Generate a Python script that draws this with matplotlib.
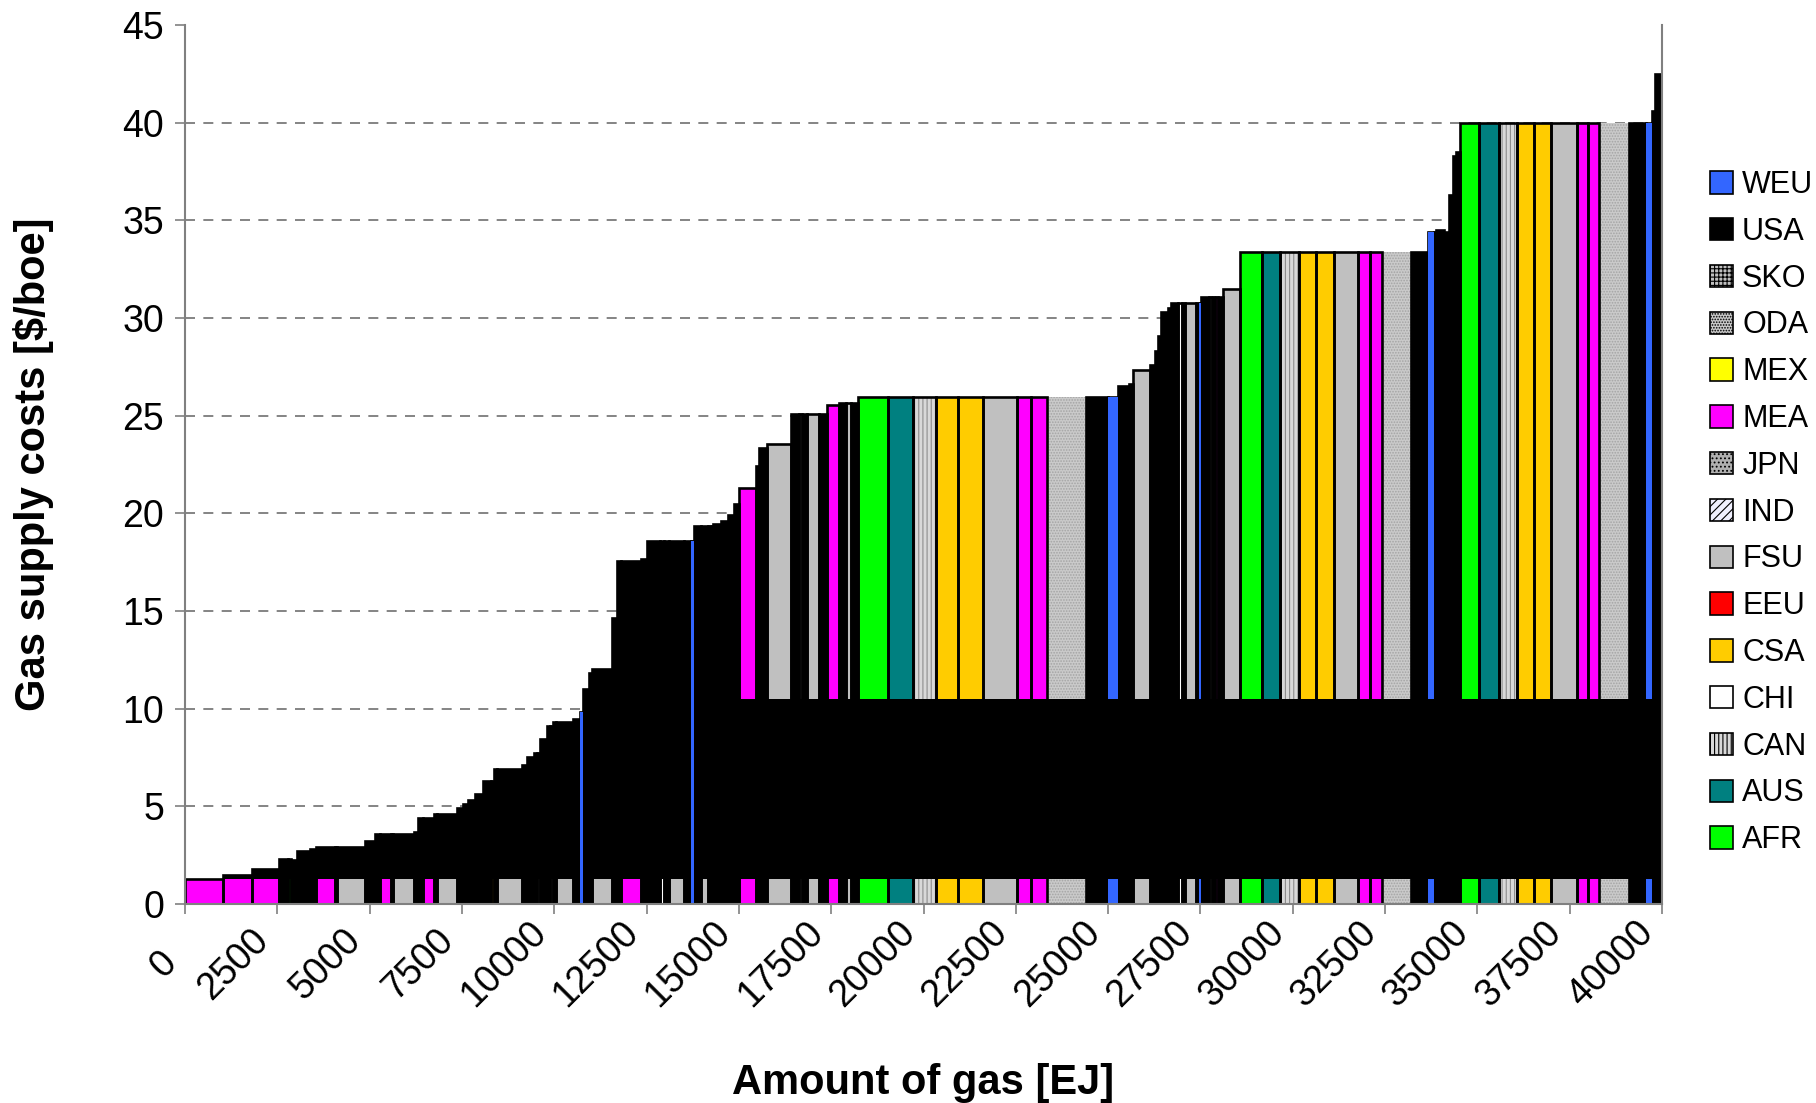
import numpy as np
import matplotlib
matplotlib.use("Agg")
import matplotlib.pyplot as plt
from matplotlib.patches import Patch
from matplotlib.transforms import ScaledTranslation

plt.rcParams["font.family"] = ["Liberation Sans", "DejaVu Sans"]
plt.rcParams["hatch.linewidth"] = 0.8

# gas resource tranches, ordered by cost: amount [EJ], cost [$/boe], region
widths = [1030, 785, 731, 244, 81, 162, 352, 162, 515, 54,
          758, 271, 135, 298, 54, 569, 108, 135, 298, 81,
          542, 162, 135, 190, 217, 217, 81, 81, 677, 135,
          190, 81, 81, 190, 81, 81, 81, 460, 190, 81,
          162, 81, 542, 135, 108, 542, 162, 352, 108, 135,
          406, 190, 81, 190, 190, 81, 54, 217, 190, 162,
          135, 460, 81, 217, 650, 217, 81, 135, 325, 217,
          325, 190, 135, 190, 812, 677, 623, 596, 677, 921,
          379, 433, 1056, 596, 271, 298, 108, 460, 135, 81,
          81, 190, 81, 190, 108, 81, 298, 81, 54, 217,
          81, 81, 81, 135, 460, 596, 487, 515, 460, 487,
          650, 325, 325, 785, 460, 162, 54, 217, 135, 108,
          81, 108, 515, 542, 487, 460, 460, 704, 298, 298,
          812, 460, 162, 81, 135]
costs = [1.28, 1.48, 1.78, 2.30, 2.30, 2.25, 2.72, 2.82, 2.92, 2.92,
         2.92, 3.23, 3.59, 3.59, 3.59, 3.59, 3.67, 4.39, 4.39, 4.60,
         4.60, 4.92, 5.12, 5.33, 5.64, 6.30, 6.30, 6.92, 6.92, 7.13,
         7.52, 7.72, 7.72, 8.46, 9.09, 9.09, 9.32, 9.32, 9.47, 9.81,
         11.0, 11.85, 12.03, 14.64, 17.54, 17.54, 17.65, 18.60, 18.60, 18.60,
         18.60, 18.60, 18.60, 19.33, 19.33, 19.33, 19.33, 19.45, 19.60, 19.92,
         20.50, 21.30, 22.40, 23.36, 23.55, 25.08, 25.08, 25.08, 25.08, 25.08,
         25.56, 25.64, 25.64, 25.64, 25.95, 25.95, 25.95, 25.95, 25.95, 25.95,
         25.95, 25.95, 25.95, 25.95, 25.95, 26.53, 26.60, 27.35, 27.60, 28.30,
         29.10, 30.30, 30.50, 30.77, 30.77, 30.77, 30.77, 30.77, 30.77, 31.07,
         31.07, 31.07, 31.07, 31.07, 31.50, 33.37, 33.37, 33.37, 33.37, 33.37,
         33.37, 33.37, 33.37, 33.37, 33.37, 34.40, 34.40, 34.53, 34.40, 36.30,
         38.30, 38.50, 40.0, 40.0, 40.0, 40.0, 40.0, 40.0, 40.0, 40.0,
         40.0, 40.0, 40.0, 40.6, 42.5]
regions = ["MEA", "MEA", "MEA", "USA", "AFR", "USA", "USA", "USA", "MEA", "USA",
           "FSU", "USA", "USA", "MEA", "USA", "FSU", "USA", "USA", "MEA", "USA",
           "FSU", "USA", "USA", "USA", "USA", "USA", "CSA", "USA", "FSU", "USA",
           "USA", "USA", "CAN", "USA", "USA", "CAN", "USA", "FSU", "USA", "WEU",
           "USA", "USA", "FSU", "USA", "USA", "MEA", "USA", "USA", "CHI", "USA",
           "FSU", "USA", "WEU", "USA", "FSU", "USA", "MEA", "USA", "USA", "USA",
           "USA", "MEA", "USA", "USA", "FSU", "USA", "CHI", "USA", "FSU", "USA",
           "MEA", "USA", "FSU", "USA", "AFR", "AUS", "CAN", "CSA", "CSA", "FSU",
           "MEA", "MEA", "ODA", "USA", "WEU", "USA", "USA", "FSU", "USA", "USA",
           "USA", "USA", "USA", "USA", "CHI", "USA", "FSU", "USA", "WEU", "USA",
           "FSU", "USA", "MEA", "USA", "FSU", "AFR", "AUS", "CAN", "CSA", "CSA",
           "FSU", "MEA", "MEA", "ODA", "USA", "WEU", "USA", "USA", "USA", "USA",
           "USA", "USA", "AFR", "AUS", "CAN", "CSA", "CSA", "FSU", "MEA", "MEA",
           "ODA", "USA", "WEU", "USA", "USA"]

legend_regions = ["WEU", "USA", "SKO", "ODA", "MEX", "MEA", "JPN", "IND",
                  "FSU", "EEU", "CSA", "CHI", "CAN", "AUS", "AFR"]

# face colour, hatch, hatch colour
styles = {
    "WEU": ("#3366ff", None, "#3366ff"),
    "USA": ("#000000", None, "#000000"),
    "SKO": ("#c0c0c0", "++++", "#606060"),
    "ODA": ("#cacaca", "......", "#a4a4a4"),
    "MEX": ("#ffff00", None, "#ffff00"),
    "MEA": ("#ff00ff", None, "#ff00ff"),
    "JPN": ("#b0b0b0", "....", "#606060"),
    "IND": ("#f0f0ff", "////", "#c8c8e8"),
    "FSU": ("#c0c0c0", None, "#c0c0c0"),
    "EEU": ("#ff0000", None, "#ff0000"),
    "CSA": ("#ffcc00", None, "#ffcc00"),
    "CHI": ("#ffffff", None, "#ffffff"),
    "CAN": ("#d8d8d8", "||||", "#8c8c8c"),
    "AUS": ("#008080", None, "#008080"),
    "AFR": ("#00ff00", None, "#00ff00"),
}

BASE = 1.28        # coloured strip kept at the foot of every tranche
BAND_TOP = 10.5    # black band ceiling on the flat part of the curve
OPEN_FROM = 14240  # left of this the band runs up to the tranche cost

widths = np.array(widths, dtype=float)
costs = np.array(costs)
regions = np.array(regions)
lefts = np.concatenate([[0], np.cumsum(widths)[:-1]])

fig = plt.figure(figsize=(18.16, 11.03), dpi=100)
ax = fig.add_axes([185 / 1816, 1 - 904 / 1103, 1477 / 1816, 879 / 1103])

for reg, (face, hatch, hc) in styles.items():
    m = regions == reg
    if m.any():
        ax.bar(lefts[m], costs[m], widths[m], align="edge", color=face,
               hatch=hatch, edgecolor=hc, linewidth=0, zorder=2)

# outlines (the ODA tranches are drawn without one)
m = regions != "ODA"
ax.bar(lefts[m], costs[m], widths[m], align="edge", fill=False,
       edgecolor="black", linewidth=1.9, zorder=3)

m = regions == "WEU"
ax.bar(lefts[m], costs[m], widths[m], align="edge", color=styles["WEU"][0],
       linewidth=0, zorder=4)

left_part = lefts < OPEN_FROM
tops = np.where(left_part, np.where(regions == "WEU", BASE, costs),
                np.minimum(costs, BAND_TOP))
tops = np.maximum(tops, BASE)
edges = np.append(lefts, lefts[-1] + widths[-1])
ax.fill_between(edges, BASE, np.append(tops, tops[-1]), step="post",
                color="black", linewidth=0, zorder=5)
m = left_part & (regions == "WEU")
ax.bar(lefts[m], costs[m], widths[m], align="edge", color=styles["WEU"][0],
       linewidth=0, zorder=6)

ax.set_xlim(0, 40000)
ax.set_ylim(0, 45)
ax.set_xticks(np.arange(0, 40001, 2500))
ax.set_yticks(np.arange(0, 46, 5))
ax.set_xticklabels([str(v) for v in range(0, 40001, 2500)], rotation=45,
                   ha="right", va="center", rotation_mode="default")
ax.tick_params(labelsize=27, length=7, width=1.2, color="#808080")
ax.tick_params(axis="y", pad=8)
ax.tick_params(axis="x", pad=6)
shift = ScaledTranslation(-0.01, -0.42, fig.dpi_scale_trans)
for lab in ax.get_xticklabels():
    lab.set_transform(lab.get_transform() + shift)

ax.set_axisbelow(True)
ax.yaxis.grid(True, linestyle=(0, (6, 5)), color="#707070", linewidth=1.2)
ax.get_ygridlines()[-1].set_visible(False)
ax.spines["top"].set_visible(False)
for side in ("left", "bottom", "right"):
    ax.spines[side].set_color("#808080")
    ax.spines[side].set_linewidth(1.5)
    ax.spines[side].set_zorder(7)

ax.set_xlabel("Amount of gas [EJ]", fontsize=30, fontweight="bold")
ax.set_ylabel("Gas supply costs [$/boe]", fontsize=30, fontweight="bold")
ax.xaxis.set_label_coords(0.5, -0.181)
ax.yaxis.set_label_coords(-0.089, 0.5)

handles = []
for reg in legend_regions:
    face, hatch, hc = styles[reg]
    handles.append(Patch(facecolor=face, hatch=hatch, edgecolor="black", linewidth=1.2))
fig.legend(handles, legend_regions, loc="upper left",
           bbox_to_anchor=(1710 / 1816, 1 - 170 / 1103), frameon=False,
           fontsize=22, handlelength=0.75, handleheight=0.75,
           handletextpad=0.3, labelspacing=0.55, borderaxespad=0, borderpad=0)

fig.savefig("out.png", dpi=100)
